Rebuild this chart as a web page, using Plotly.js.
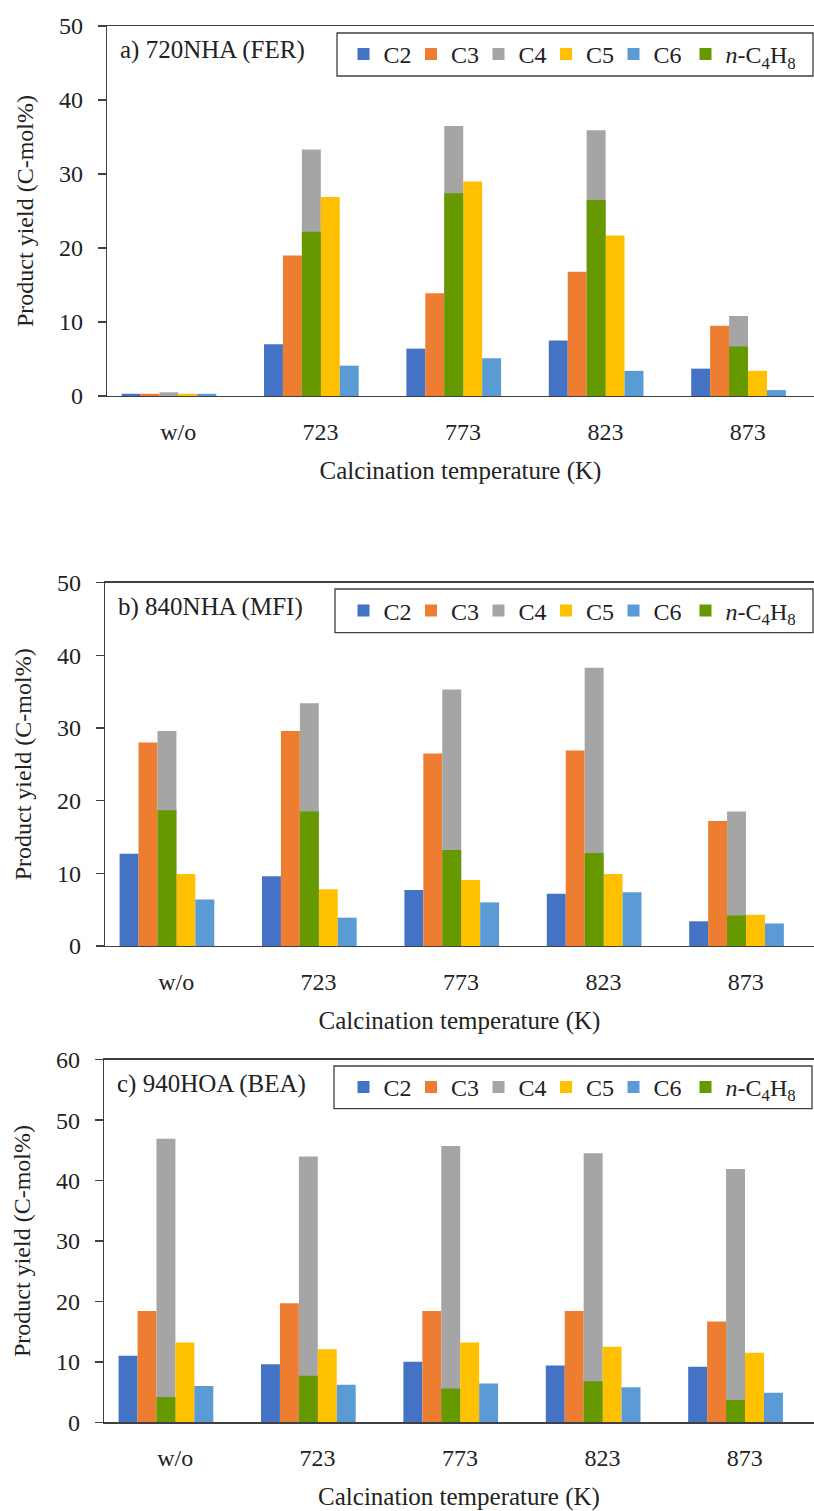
<!DOCTYPE html>
<html>
<head>
<meta charset="utf-8">
<script src="https://cdn.plot.ly/plotly-3.0.1.min.js"></script>
<style>html,body{margin:0;padding:0;background:#fff;}#chart{width:814px;height:1511px;}</style>
</head>
<body>
<div id="chart"></div>
<script>
// ---- data ----
const categories = ["w/o", "723", "773", "823", "873"];
const seriesNames = ["C2", "C3", "C4", "C5", "C6", "<i>n</i>-C<sub>4</sub>H<sub>8</sub>"];

const panelTitles = ["a) 720NHA (FER)", "b) 840NHA (MFI)", "c) 940HOA (BEA)"];

// Panel a: 720NHA (FER)
const a_C2 = [0.3, 7.0, 6.4, 7.5, 3.7];
const a_C3 = [0.3, 19.0, 13.9, 16.8, 9.5];
const a_C4 = [0.5, 33.3, 36.5, 35.9, 10.8];
const a_C5 = [0.3, 26.9, 29.0, 21.7, 3.4];
const a_C6 = [0.3, 4.1, 5.1, 3.4, 0.8];
const a_nC4H8 = [0.0, 22.2, 27.4, 26.5, 6.7];

// Panel b: 840NHA (MFI)
const b_C2 = [12.7, 9.6, 7.7, 7.2, 3.4];
const b_C3 = [28.0, 29.6, 26.5, 26.9, 17.2];
const b_C4 = [29.6, 33.4, 35.3, 38.3, 18.5];
const b_C5 = [9.9, 7.8, 9.1, 9.9, 4.3];
const b_C6 = [6.4, 3.9, 6.0, 7.4, 3.1];
const b_nC4H8 = [18.7, 18.5, 13.2, 12.8, 4.2];

// Panel c: 940HOA (BEA)
const c_C2 = [11.0, 9.6, 10.0, 9.4, 9.2];
const c_C3 = [18.4, 19.7, 18.4, 18.4, 16.7];
const c_C4 = [46.9, 44.0, 45.7, 44.5, 41.9];
const c_C5 = [13.2, 12.1, 13.2, 12.5, 11.5];
const c_C6 = [6.0, 6.2, 6.4, 5.8, 4.9];
const c_nC4H8 = [4.2, 7.7, 5.6, 6.8, 3.7];

const yMax = [50, 50, 60];

// ---- styles ----
const colors = ["#4472C4", "#ED7D31", "#A5A5A5", "#FFC000", "#5B9BD5", "#669900"];
const FONT = "'Liberation Serif', 'Times New Roman', serif";
const TXT = "#222222";
const LINE = "#404040";

const panels = [
  [a_C2, a_C3, a_C4, a_C5, a_C6, a_nC4H8],
  [b_C2, b_C3, b_C4, b_C5, b_C6, b_nC4H8],
  [c_C2, c_C3, c_C4, c_C5, c_C6, c_nC4H8]
];

// geometry (pixels -> paper fractions)
const H = 1511, W = 814;
const yDomPx = [[26, 396], [582.7, 946], [1059.7, 1422.3]];
const xLeftPx = [107, 105, 104];
const legBoxPx = [[337, 33, 813, 76], [335, 589, 813, 632.7], [334, 1066, 812, 1108.7]];
const catPx = 142.4;

const barW = 0.133;
const groupShift = -0.065;
// slot index per series (n-C4H8 overlays C4)
const slot = [0, 1, 2, 3, 4, 2];

const traces = [];
const layout = {
  width: W, height: H,
  margin: {l: 0, r: 0, t: 0, b: 0},
  paper_bgcolor: "#fff", plot_bgcolor: "#fff",
  barmode: "overlay",
  font: {family: FONT, size: 24, color: TXT},
  annotations: [],
  shapes: [],
  showlegend: true
};

panels.forEach((series, p) => {
  const idx = p === 0 ? "" : String(p + 1);
  const xa = "x" + idx, ya = "y" + idx;
  const legMain = p === 0 ? "legend" : "legend" + (p + 1);
  const legExtra = "legend" + (p + 4);
  series.forEach((vals, s) => {
    traces.push({
      type: "bar",
      x: categories,
      y: vals,
      name: seriesNames[s],
      xaxis: xa, yaxis: ya,
      legend: s === 5 ? legExtra : legMain,
      width: barW,
      offset: groupShift - 2.5 * barW + slot[s] * barW,
      marker: {color: colors[s], line: {width: 0}},
      opacity: 1,
      hoverinfo: "y"
    });
  });

  const [topPx, botPx] = yDomPx[p];
  const left = xLeftPx[p];
  const rightVal = -0.5 + (W - left) / catPx;
  layout["xaxis" + idx] = {
    domain: [left / W, 1],
    anchor: ya,
    type: "category",
    range: [-0.5, rightVal],
    showline: true, linecolor: LINE, linewidth: 1.3,
    mirror: true,
    ticks: "", showgrid: false, zeroline: false,
    tickfont: {family: FONT, size: 24, color: TXT},
    ticklabelstandoff: 14,
    title: {text: "Calcination temperature (K)", font: {family: FONT, size: 25, color: TXT}, standoff: 17},
    automargin: false, fixedrange: true
  };
  layout["yaxis" + idx] = {
    domain: [(H - botPx) / H, (H - topPx) / H],
    anchor: xa,
    range: [0, yMax[p]],
    dtick: 10,
    showline: true, linecolor: LINE, linewidth: 1.3,
    ticks: "outside", ticklen: 8, tickcolor: LINE, tickwidth: 1.3,
    ticklabelstandoff: 10,
    showgrid: false, zeroline: false,
    tickfont: {family: FONT, size: 24, color: TXT},
    title: {text: "Product yield (C-mol%)", font: {family: FONT, size: 24, color: TXT}, standoff: 18},
    automargin: false, fixedrange: true
  };

  const [bx0, by0, bx1, by1] = legBoxPx[p];
  const midY = (H - (by0 + by1) / 2) / H;
  layout[legMain] = {
    x: 343.5 / W, xanchor: "left",
    y: midY, yanchor: "middle",
    orientation: "h",
    bgcolor: "rgba(0,0,0,0)",
    borderwidth: 0,
    font: {family: FONT, size: 24, color: TXT},
    itemwidth: 30,
    entrywidth: 22.5,
    entrywidthmode: "pixels",
    traceorder: "normal",
    tracegroupgap: 0
  };
  layout[legExtra] = {
    x: 685.5 / W, xanchor: "left",
    y: midY, yanchor: "middle",
    orientation: "h",
    bgcolor: "rgba(0,0,0,0)",
    borderwidth: 0,
    font: {family: FONT, size: 24, color: TXT},
    itemwidth: 30,
    traceorder: "normal"
  };
  layout.shapes.push({
    type: "rect", xref: "paper", yref: "paper", layer: "above",
    x0: bx0 / W, x1: bx1 / W, y0: (H - by1) / H, y1: (H - by0) / H,
    line: {color: LINE, width: 1.3}, fillcolor: "rgba(0,0,0,0)"
  });
  layout.annotations.push({
    text: panelTitles[p],
    xref: "paper", yref: "paper",
    x: (left + 11) / W, xanchor: "left",
    y: (H - topPx - 24) / H, yanchor: "middle",
    showarrow: false,
    font: {family: FONT, size: 25, color: TXT}
  });
});

Plotly.newPlot("chart", traces, layout, {displayModeBar: false, staticPlot: true});
</script>
</body>
</html>
